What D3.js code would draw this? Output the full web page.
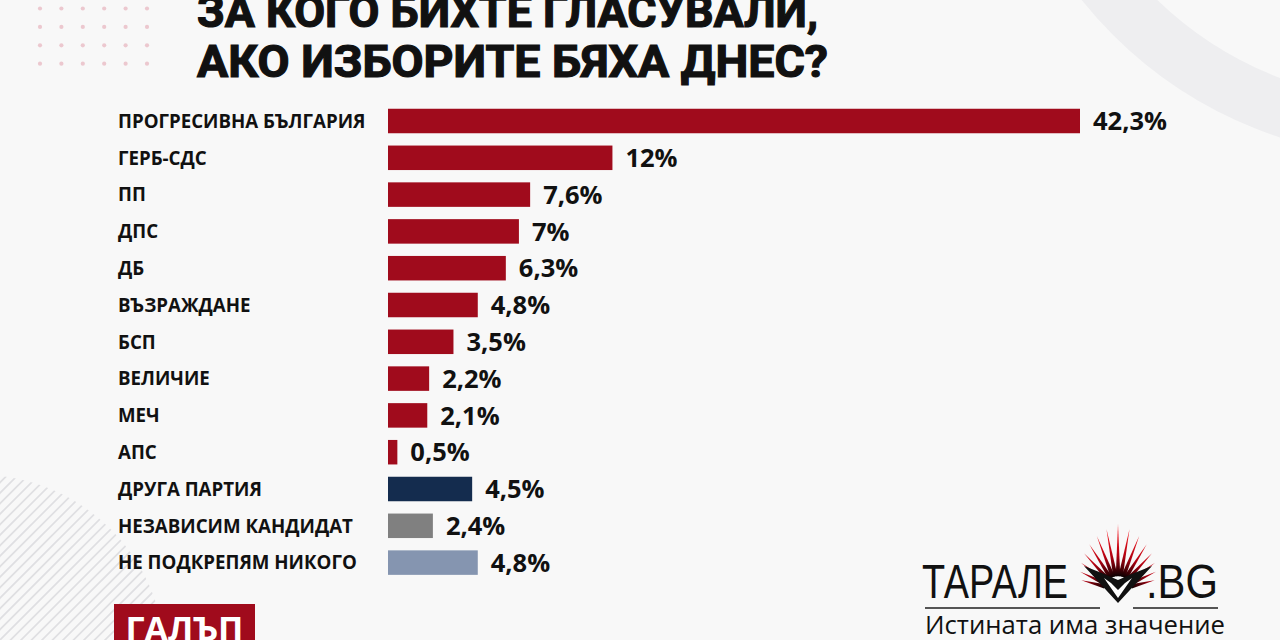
<!DOCTYPE html>
<html>
<head>
<meta charset="utf-8">
<script src="https://cdn.jsdelivr.net/npm/d3@7"></script>
<style>
html,body{margin:0;padding:0;background:#f8f8f8;}
svg{display:block;}
</style>
</head>
<body>
<svg id="chart" width="1280" height="640"></svg>
<script>
const titleLines = ["ЗА КОГО БИХТЕ ГЛАСУВАЛИ,", "АКО ИЗБОРИТЕ БЯХА ДНЕС?"];
const categories = ["ПРОГРЕСИВНА БЪЛГАРИЯ","ГЕРБ-СДС","ПП","ДПС","ДБ","ВЪЗРАЖДАНЕ","БСП","ВЕЛИЧИЕ","МЕЧ","АПС","ДРУГА ПАРТИЯ","НЕЗАВИСИМ КАНДИДАТ","НЕ ПОДКРЕПЯМ НИКОГО"];
const values = [42.3, 12, 7.6, 7, 6.3, 4.8, 3.5, 2.2, 2.1, 0.5, 4.5, 2.4, 4.8];
const valueLabels = ["42,3%","12%","7,6%","7%","6,3%","4,8%","3,5%","2,2%","2,1%","0,5%","4,5%","2,4%","4,8%"];
const source = "ГАЛЪП";
const brand = ["ТАРАЛЕ", ".BG", "Истината има значение"];

// styles
const barColors = ["#a00b1c","#a00b1c","#a00b1c","#a00b1c","#a00b1c","#a00b1c","#a00b1c","#a00b1c","#a00b1c","#a00b1c","#142c4e","#808080","#8595b0"];

const svg = d3.select("#chart");
const defs = svg.append("defs");

svg.append("rect").attr("width",1280).attr("height",640).attr("fill","#f8f8f8");

// top-right ring
svg.append("circle").attr("cx",1410).attr("cy",-262).attr("r",392)
  .attr("fill","none").attr("stroke","#eeeef0").attr("stroke-width",56);

// dots
const dg = svg.append("g");
d3.range(4).forEach(r => d3.range(6).forEach(c => {
  dg.append("circle").attr("cx",40 + c*21.4).attr("cy",8.5 + r*18.4).attr("r",2.1).attr("fill","#ecc8cf");
}));

// stripes bottom-left
defs.append("clipPath").attr("id","stripeClip").append("circle").attr("cx",-20).attr("cy",660).attr("r",185);
const sg = svg.append("g").attr("clip-path","url(#stripeClip)");
d3.range(-20, 60).forEach(i => {
  const o = i*10.5;
  sg.append("line").attr("x1",o-200).attr("y1",640+200).attr("x2",o+300).attr("y2",640-300)
    .attr("stroke","#dfdfe2").attr("stroke-width",1.7);
});

// title
const tg = svg.append("g").attr("font-family","'Liberation Sans Narrow','Roboto','Liberation Sans',sans-serif")
  .attr("font-weight",700).attr("fill","#111");
tg.append("text").attr("x",197).attr("y",27).attr("font-size",44).attr("textLength",621).attr("lengthAdjust","spacingAndGlyphs").attr("stroke","#111").attr("stroke-width",1.2).text(titleLines[0]);
tg.append("text").attr("x",197).attr("y",77).attr("font-size",44).attr("textLength",631).attr("lengthAdjust","spacingAndGlyphs").attr("stroke","#111").attr("stroke-width",1.2).text(titleLines[1]);

// scales
const x = d3.scaleLinear().domain([0, 37]).range([388, 1080]).clamp(true);
const y = d3.scalePoint().domain(categories).range([121, 562.6]);
const bh = 24.5;

const data = categories.map((c,i)=>({c, v:values[i], l:valueLabels[i], col:barColors[i]}));

svg.append("g").selectAll("rect").data(data).join("rect")
  .attr("x", x(0)).attr("y", d => y(d.c) - bh/2)
  .attr("width", d => x(d.v) - x(0)).attr("height", bh)
  .attr("fill", d => d.col);

svg.append("g").attr("font-family","'Open Sans',sans-serif").attr("font-weight",700).attr("font-size",18.7).attr("fill","#111")
  .selectAll("text").data(data).join("text")
  .attr("x",118).attr("y", d => y(d.c)).attr("dy","0.36em").text(d => d.c);

svg.append("g").attr("font-family","'Open Sans',sans-serif").attr("font-weight",700).attr("font-size",25.5).attr("fill","#111")
  .selectAll("text").data(data).join("text")
  .attr("x", d => x(d.v) + 13).attr("y", d => y(d.c)).attr("dy","0.36em").text(d => d.l);

// source box
svg.append("rect").attr("x",114).attr("y",604).attr("width",141).attr("height",40).attr("fill","#a00b1c");
svg.append("text").attr("x",184.5).attr("y",641).attr("text-anchor","middle").attr("font-family","'Open Sans',sans-serif")
  .attr("font-weight",700).attr("font-size",34).attr("fill","#fff").text(source);

// logo
const lg = svg.append("g");
lg.append("text").attr("x",922).attr("y",598).attr("font-family","'Liberation Sans',Arial,sans-serif").attr("font-size",49)
  .attr("textLength",146).attr("lengthAdjust","spacingAndGlyphs").attr("fill","#111").text(brand[0]);
lg.append("text").attr("x",1146).attr("y",598).attr("font-family","'Liberation Sans',Arial,sans-serif").attr("font-size",49)
  .attr("textLength",72).attr("lengthAdjust","spacingAndGlyphs").attr("fill","#111").text(brand[1]);
lg.append("line").attr("x1",925).attr("x2",1100).attr("y1",608).attr("y2",608).attr("stroke","#555").attr("stroke-width",2);
lg.append("line").attr("x1",1133).attr("x2",1218).attr("y1",608).attr("y2",608).attr("stroke","#555").attr("stroke-width",2);
lg.append("text").attr("x",925).attr("y",634).attr("font-family","'Open Sans',sans-serif").attr("font-size",26)
  .attr("textLength",300).attr("lengthAdjust","spacingAndGlyphs").attr("fill","#111").text(brand[2]);

// burst
const grad = defs.append("radialGradient").attr("id","burst").attr("cx",1118).attr("cy",590).attr("r",62).attr("gradientUnits","userSpaceOnUse");
grad.append("stop").attr("offset","0.2").attr("stop-color","#000");
grad.append("stop").attr("offset","0.55").attr("stop-color","#b00010");
grad.append("stop").attr("offset","1").attr("stop-color","#ff1a22");
const bcx = 1118, bcy = 590;
const nSp = 15;
d3.range(nSp).forEach(i => {
  const a = (-165 + i*(150/(nSp-1))) * Math.PI/180;
  const mid = Math.abs(i-(nSp-1)/2)/((nSp-1)/2);
  const R = 66 - mid*28;
  const w = 0.09;
  const r0 = 14;
  const p = [
    [bcx + r0*Math.cos(a-w*1.8), bcy + r0*Math.sin(a-w*1.8)],
    [bcx + R*Math.cos(a), bcy + R*Math.sin(a)],
    [bcx + r0*Math.cos(a+w*1.8), bcy + r0*Math.sin(a+w*1.8)]
  ];
  lg.append("path").attr("d", d3.line()(p) + "Z").attr("fill","url(#burst)");
});
lg.append("path").attr("d","M1084,566 Q1100,572 1118,580 Q1136,572 1152,566 L1118,603 Z").attr("fill","#111");
lg.append("path").attr("d","M1104,578 L1118,598 L1132,578 L1125,583 L1118,590 L1111,583 Z").attr("fill","#fff");
</script>
</body>
</html>
